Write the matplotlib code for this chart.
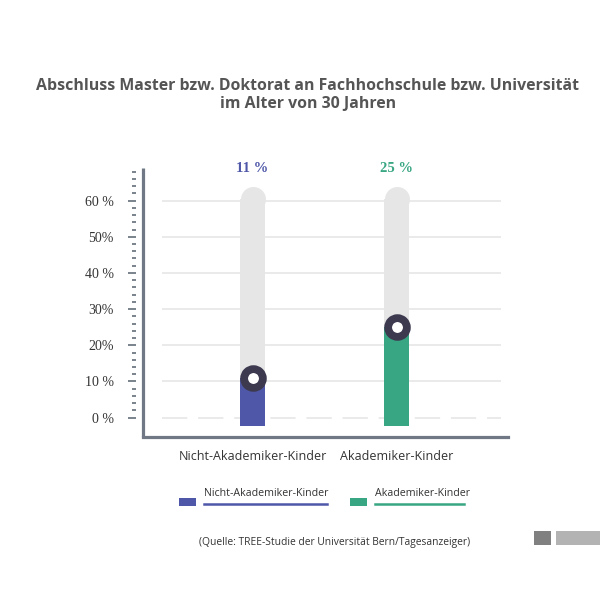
import matplotlib
matplotlib.use("Agg")
import matplotlib.pyplot as plt
from matplotlib.patches import Rectangle
from matplotlib.lines import Line2D

# ---- data ----
categories = ["Nicht-Akademiker-Kinder", "Akademiker-Kinder"]
values = [11, 25]
value_labels = ["11 %", "25 %"]
ytick_values = [0, 10, 20, 30, 40, 50, 60]
ytick_labels = ["0 %", "10 %", "20%", "30%", "40 %", "50%", "60 %"]
minor_ticks = list(range(2, 70, 2))
track_max = 64
title = "Abschluss Master bzw. Doktorat an Fachhochschule bzw. Universität\nim Alter von 30 Jahren"
source = "(Quelle: TREE-Studie der Universität Bern/Tagesanzeiger)"

# ---- style ----
colors = ["#4f57a8", "#38a683"]
track_color = "#e6e6e6"
ring_color = "#3d3a50"
axis_color = "#6f7884"
grid_color = "#e8e8e8"
sans = ["Open Sans", "DejaVu Sans"]
serif = ["Liberation Serif", "DejaVu Serif"]
BASE = -2.3

W = H = 600
fig = plt.figure(figsize=(6, 6), dpi=100)
fig.patch.set_facecolor("white")

def fx(px):
    return px / W

def fy(py):
    return 1 - py / H

ax = fig.add_axes([fx(142.7), fy(437), fx(508) - fx(142.7), fy(168) - fy(437)])
ax.set_xlim(-0.7625, 1.774)
ax.set_ylim(-5.34, 69.0)
ax.set_facecolor("none")

x = list(range(len(categories)))
bar_w = 25 / 144
px_per_unit = (437 - 168) / (69.0 + 5.34)
cap_r = 12.5 / px_per_unit

# grid lines
ax.hlines([v for v in ytick_values if v > 0], -0.628, 1.726, color=grid_color, lw=1.3, zorder=0)
ax.hlines([0], -0.628, 1.726, color=grid_color, lw=1.3, zorder=0, linestyles=(0, (14, 6)))

# tracks
for xi in x:
    ax.bar(xi, track_max - cap_r - BASE, bottom=BASE, width=bar_w, color=track_color, zorder=1, linewidth=0)
    ax.plot([xi], [track_max - cap_r], marker="o", ms=18, color=track_color, mec="none", zorder=1)

# filled bars + rings
for xi, v, c in zip(x, values, colors):
    ax.bar(xi, v - BASE, bottom=BASE, width=bar_w, color=c, zorder=2, linewidth=0)
    ax.plot([xi], [v], marker="o", ms=13.5, mfc="white", mec=ring_color, mew=5.6, zorder=3)

# value labels
for xi, lab, c in zip(x, value_labels, colors):
    ax.text(xi, 1.0, lab, transform=ax.get_xaxis_transform(), ha="center", va="center",
            color=c, fontsize=10.5, fontweight="bold", family=serif)

# axes styling
for s in ["top", "right"]:
    ax.spines[s].set_visible(False)
ax.spines["bottom"].set_color(axis_color)
ax.spines["bottom"].set_linewidth(2.3)
ax.spines["left"].set_position(("outward", 5))
ax.spines["left"].set_visible(False)
ax.plot([0, 0], [0, 1], transform=ax.transAxes, color=axis_color, lw=2.3, clip_on=False,
        solid_capstyle="butt", zorder=5)

ax.set_yticks(ytick_values)
ax.set_yticklabels(ytick_labels, family=serif, fontsize=10, color="#333333")
ax.set_yticks(minor_ticks, minor=True)
ax.tick_params(axis="y", which="major", length=6, width=1.3, color=axis_color, pad=10)
ax.tick_params(axis="y", which="minor", length=3, width=1.3, color=axis_color)

ax.set_xticks(x)
ax.set_xticklabels(categories, family=sans, fontsize=9, color="#333333")
ax.tick_params(axis="x", length=0, pad=9)

# title
fig.text(fx(308), fy(95), title, ha="center", va="center", fontsize=11.4, fontweight="bold",
         color="#555555", family=sans, linespacing=1.2)

# legend (custom)
leg = [(179, 204, 327), (350, 375, 464)]
for (sq_x, tx, ux), c, lab in zip(leg, colors, categories):
    fig.patches.append(Rectangle((fx(sq_x), fy(505.5)), fx(17), fy(0) - fy(8), transform=fig.transFigure,
                                 color=c, lw=0))
    fig.text(fx(tx), fy(494), lab, ha="left", va="center", fontsize=7.7, color="#333333", family=sans)
    fig.lines.append(Line2D([fx(tx), fx(ux)], [fy(504), fy(504)], transform=fig.transFigure,
                            color=c, lw=1.8))

# source
fig.text(fx(199), fy(542), source, ha="left", va="center", fontsize=7.4, color="#333333", family=sans)
fig.patches.append(Rectangle((fx(534), fy(545)), fx(17), fy(0) - fy(14), transform=fig.transFigure,
                             color="#808080", lw=0))
fig.patches.append(Rectangle((fx(556), fy(545)), fx(44), fy(0) - fy(14), transform=fig.transFigure,
                             color="#b3b3b3", lw=0))

fig.savefig("out.png", dpi=100)
